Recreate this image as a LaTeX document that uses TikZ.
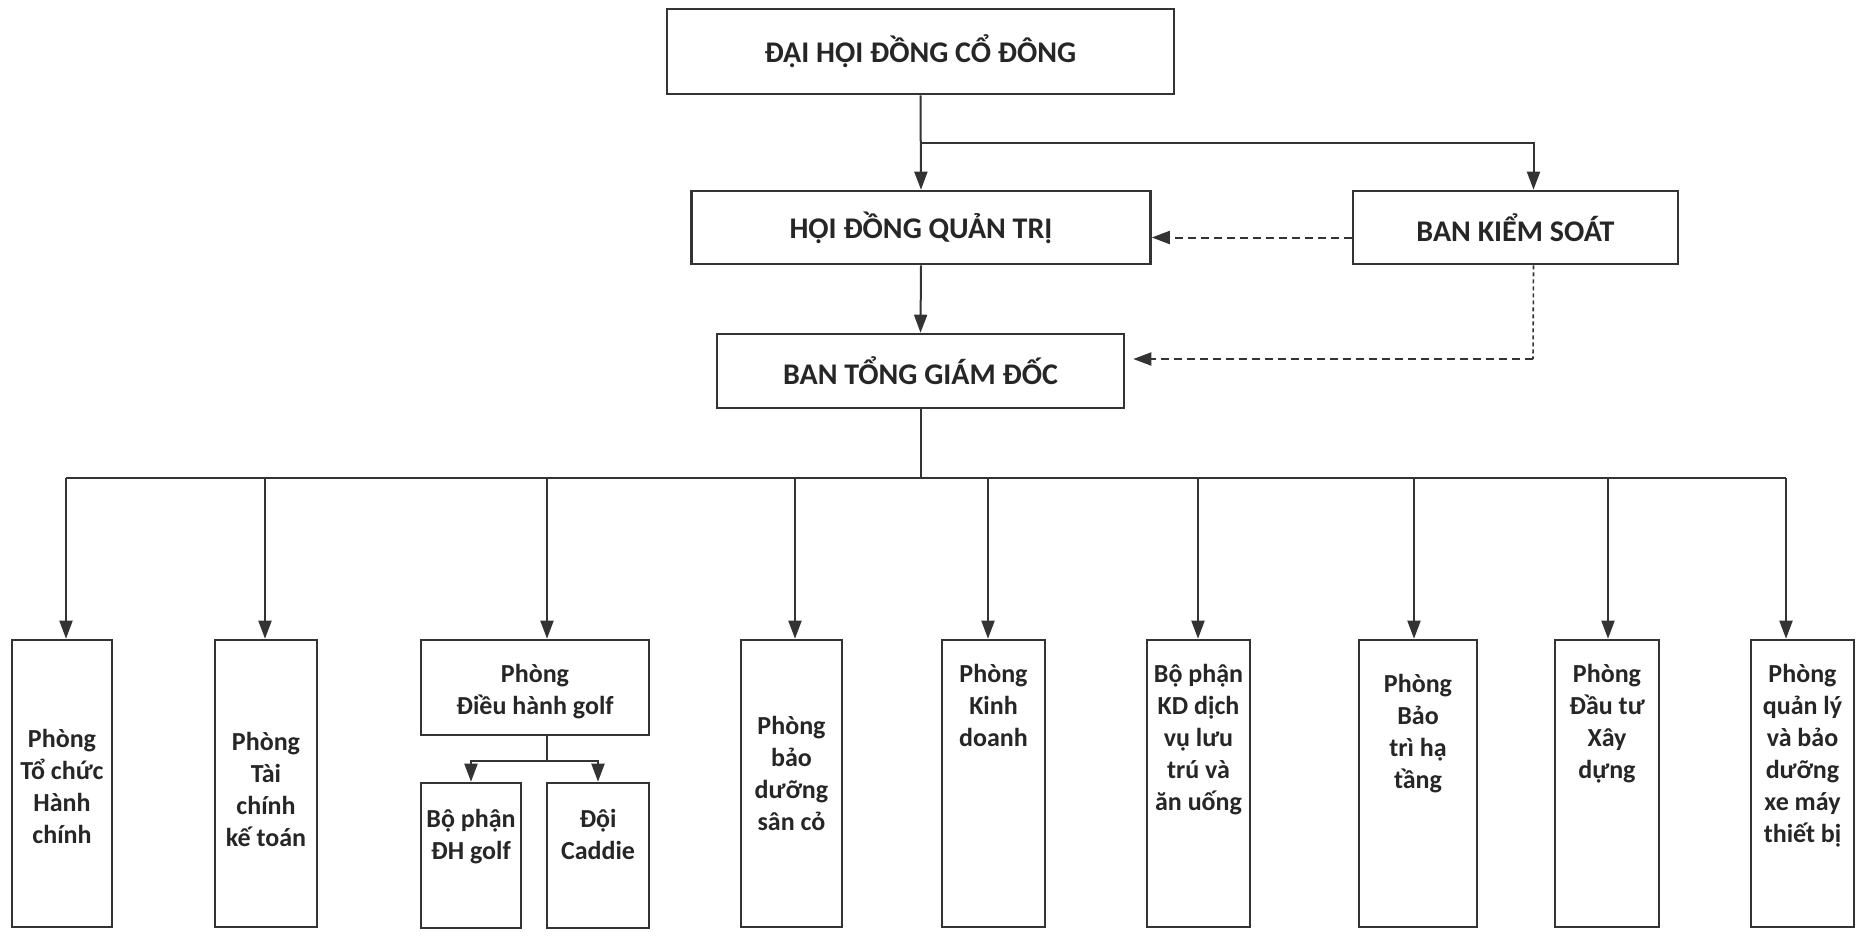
\documentclass[tikz,border=0pt]{standalone}
\usepackage{fontspec}
\setmainfont{Carlito}
\usetikzlibrary{arrows.meta}
\usetikzlibrary{positioning}
\definecolor{ink}{HTML}{333333}
\tikzstyle{wire}  = [
    draw=ink,
    line width=1pt
]
\tikzstyle{tran}  = [
    wire,
    ->,
    >={Triangle[length=9pt,width=6.5pt]}
]
\tikzstyle{ctrl}  = [
    tran,
    dash pattern=on 4pt off 2.5pt
]
\tikzstyle{organ} = [
    shape=rectangle,
    draw=ink,
    line width=1.3pt,
    inner sep=0pt,
    text=black!85,
    font=\bfseries\fontsize{15}{17}\selectfont
]
\tikzstyle{unit}  = [
    organ,
    minimum height=143.5pt
]
\tikzstyle{lbl}   = [
    align=center,
    inner sep=0pt,
    text=black!85,
    font=\bfseries\fontsize{13}{16}\selectfont
]

\begin{document}
\begin{tikzpicture}[x=0.5pt, y=-0.5pt]
\useasboundingbox (0,0) rectangle (1859,938);

% governing bodies
\node[organ, minimum width=253.5pt, minimum height=42.5pt] (dhdcd) at (920.5,51.5)  {ĐẠI HỘI ĐỒNG CỔ ĐÔNG};
\node[organ, minimum width=229.5pt, minimum height=36.5pt] (hdqt)  at (921,227.5)   {HỘI ĐỒNG QUẢN TRỊ};
\node[organ, minimum width=162.5pt, minimum height=36.5pt] (bks)   at (1515.5,227.5) {BAN KIỂM SOÁT};
\node[organ, minimum width=203.5pt, minimum height=37pt]   (btgd)  at (920.5,371)   {BAN TỔNG GIÁM ĐỐC};

% departments
\node[unit, minimum width=50pt]   (ptc)   at (62,783.5)    {};
\node[unit, minimum width=51pt]   (ptckt) at (266,783.5)   {};
\node[organ, minimum width=114pt, minimum height=47.5pt] (pdh) at (535,687.5) {};
\node[organ, minimum width=50pt, minimum height=72.5pt]  (bpdh) at (471,855.5) {};
\node[organ, minimum width=51pt, minimum height=72.5pt]  (ddc)  at (598,855.5) {};
\node[unit, minimum width=50.5pt] (pbd)   at (791.5,783.5) {};
\node[unit, minimum width=51.5pt] (pkd)   at (993.5,783.5) {};
\node[unit, minimum width=51.5pt] (bpkd)  at (1198.5,783.5) {};
\node[unit, minimum width=59pt]   (pbt)   at (1418,783.5)  {};
\node[unit, minimum width=52pt]   (pdt)   at (1607,783.5)  {};
\node[unit, minimum width=51.5pt] (pql)   at (1802.5,783.5) {};

\node[lbl, below=45pt of ptc.north]     (ptc-t)   {Phòng\\Tổ chức\\Hành\\chính};
\node[lbl, below=46.5pt of ptckt.north] (ptckt-t) {Phòng\\Tài\\chính\\kế toán};
\node[lbl, below=12.5pt of pdh.north]   (pdh-t)   {Phòng\\Điều hành golf};
\node[lbl, below=13.5pt of bpdh.north]  (bpdh-t)  {Bộ phận\\ĐH golf};
\node[lbl, below=13.5pt of ddc.north]   (ddc-t)   {Đội\\Caddie};
\node[lbl, below=38.5pt of pbd.north]   (pbd-t)   {Phòng\\bảo\\dưỡng\\sân cỏ};
\node[lbl, below=12.5pt of pkd.north]   (pkd-t)   {Phòng\\Kinh\\doanh};
\node[lbl, below=12.5pt of bpkd.north]  (bpkd-t)  {Bộ phận\\KD dịch\\vụ lưu\\trú và\\ăn uống};
\node[lbl, below=17.5pt of pbt.north]   (pbt-t)   {Phòng\\Bảo\\trì hạ\\tầng};
\node[lbl, below=12.5pt of pdt.north]   (pdt-t)   {Phòng\\Đầu tư\\Xây\\dựng};
\node[lbl, below=12.5pt of pql.north]   (pql-t)   {Phòng\\quản lý\\và bảo\\dưỡng\\xe máy\\thiết bị};

% top links
\coordinate (split) at (921,143);
\draw[tran] (dhdcd.south) to (hdqt.north);
\draw[tran] (split) -| ([xshift=9pt]bks.north);
\draw[tran] (hdqt.south) to (btgd.north);
\draw[ctrl] ([yshift=-5pt]bks.west) to ([yshift=-5pt]hdqt.east);
\coordinate (kbend) at (1533,359);
\draw[wire, dash pattern=on 2pt off 1.5pt, line width=0.8pt] ([xshift=9pt]bks.south) to (kbend);
\draw[ctrl, shorten >=4pt] (kbend) to (kbend -| btgd.east);

% bus to departments
\foreach \ax/\bx in {66/ptc, 265/ptckt, 547/pdh, 795/pbd, 988/pkd, 1198/bpkd, 1414/pbt, 1608/pdt, 1786/pql} {
    \coordinate (bus\bx) at (\ax,478);
    \draw[tran] (bus\bx) to (bus\bx |- \bx.north);
}
\draw[wire] (busptc) to (buspql);
\draw[wire] (btgd.south) to (btgd.south |- busptc);

% golf sub-units
\coordinate (gsplit) at (547,761);
\draw[wire] (pdh.south -| gsplit) to (gsplit);
\draw[tran] (gsplit) -| (bpdh.north);
\draw[tran] (gsplit) -| (ddc.north);

\end{tikzpicture}
\end{document}
